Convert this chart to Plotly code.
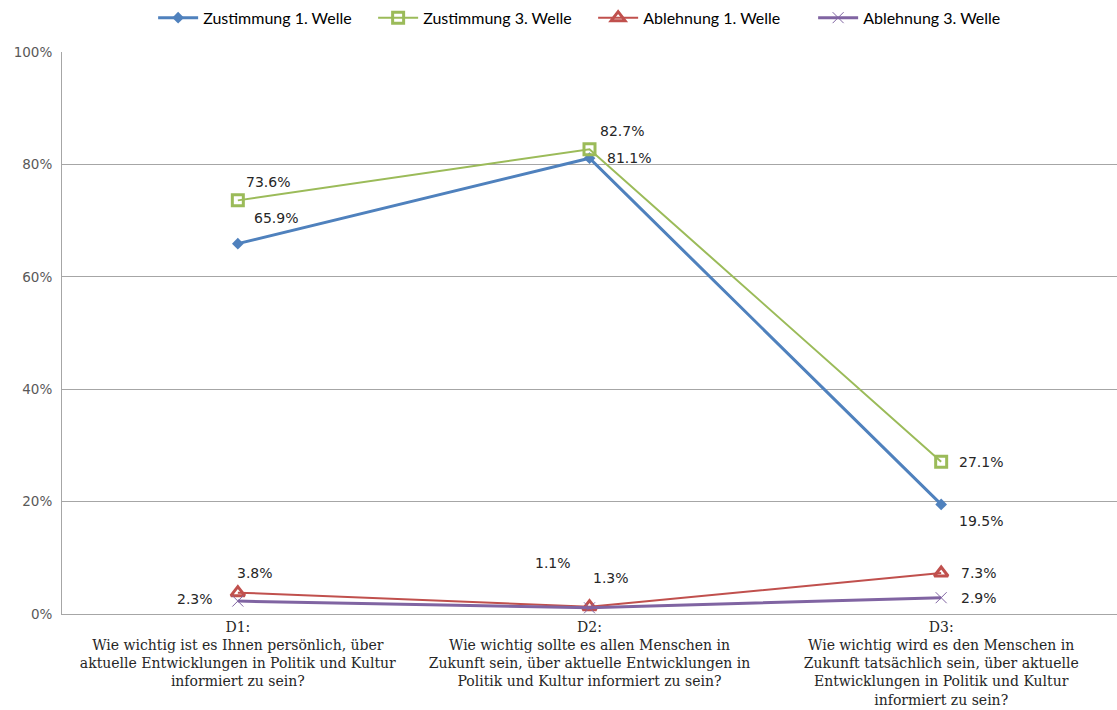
import plotly.graph_objects as go

categories = [
    "D1:<br>Wie wichtig ist es Ihnen persönlich, über<br>aktuelle Entwicklungen in Politik und Kultur<br>informiert zu sein?",
    "D2:<br>Wie wichtig sollte es allen Menschen in<br>Zukunft sein, über aktuelle Entwicklungen in<br>Politik und Kultur informiert zu sein?",
    "D3:<br>Wie wichtig wird es den Menschen in<br>Zukunft tatsächlich sein, über aktuelle<br>Entwicklungen in Politik und Kultur<br>informiert zu sein?",
]
zustimmung_1 = [65.9, 81.1, 19.5]
zustimmung_3 = [73.6, 82.7, 27.1]
ablehnung_1 = [3.8, 1.3, 7.3]
ablehnung_3 = [2.3, 1.1, 2.9]
y_ticks = [0, 20, 40, 60, 80, 100]
y_tick_labels = ["0%", "20%", "40%", "60%", "80%", "100%"]

series = [
    ("Zustimmung 1. Welle", zustimmung_1, "#4F81BD", "diamond", 9, 3, 0,
     [(38, -26), (39, 0), (40, 17)]),
    ("Zustimmung 3. Welle", zustimmung_3, "#9BBB59", "square-open", 11, 2, 3,
     [(30, -18), (32, -18), (40, 0)]),
    ("Ablehnung 1. Welle", ablehnung_1, "#C0504D", "triangle-up-open", 12, 2, 3,
     [(17, -20), (21, -29), (38, 0)]),
    ("Ablehnung 3. Welle", ablehnung_3, "#8064A2", "x-thin-open", 11, 3, 1,
     [(-43, -2), (-37, -45), (38, 0)]),
]

fig = go.Figure()
annotations = []
for name, vals, color, sym, msize, lw, mlw, offs in series:
    fig.add_trace(go.Scatter(
        x=categories, y=vals, name=name, mode="lines+markers",
        line=dict(color=color, width=lw),
        marker=dict(symbol=sym, size=msize, color=color,
                    line=dict(color=color, width=mlw if mlw else 0)),
    ))
    for c, v, (dx, dy) in zip(categories, vals, offs):
        annotations.append(dict(
            x=c, y=v, xref="x", yref="y", text=f"{v:.1f}%",
            showarrow=False, xshift=dx, yshift=-dy,
            font=dict(family="DejaVu Sans", size=14, color="#262626"),
        ))

fig.update_layout(
    width=1117, height=710,
    margin=dict(l=62, r=0, t=52, b=96),
    paper_bgcolor="white", plot_bgcolor="white",
    annotations=annotations,
    legend=dict(orientation="h", x=0.531, xanchor="center", xref="container",
                y=0.975, yanchor="middle", yref="container",
                font=dict(family="Lato", size=16, color="#000000"),
                itemwidth=40, traceorder="normal", entrywidth=165),
    xaxis=dict(type="category", range=[-0.5, 2.5], showgrid=False, automargin=False,
               showline=True, linecolor="#A6A6A6", linewidth=1,
               ticks="", ticklabelstandoff=0,
               tickfont=dict(family="DejaVu Serif", size=14, color="#262626")),
    yaxis=dict(range=[0, 100], tickvals=y_ticks, ticktext=y_tick_labels,
               automargin=False,
               showgrid=True, gridcolor="#A6A6A6", gridwidth=1,
               showline=True, linecolor="#A6A6A6", linewidth=1,
               zeroline=False, ticks="outside", ticklen=6, tickcolor="white",
               tickfont=dict(family="DejaVu Sans", size=13.5, color="#595959")),
)

fig.write_html("out.html", config={"displayModeBar": False},
               post_script="document.body.style.margin='0';")
